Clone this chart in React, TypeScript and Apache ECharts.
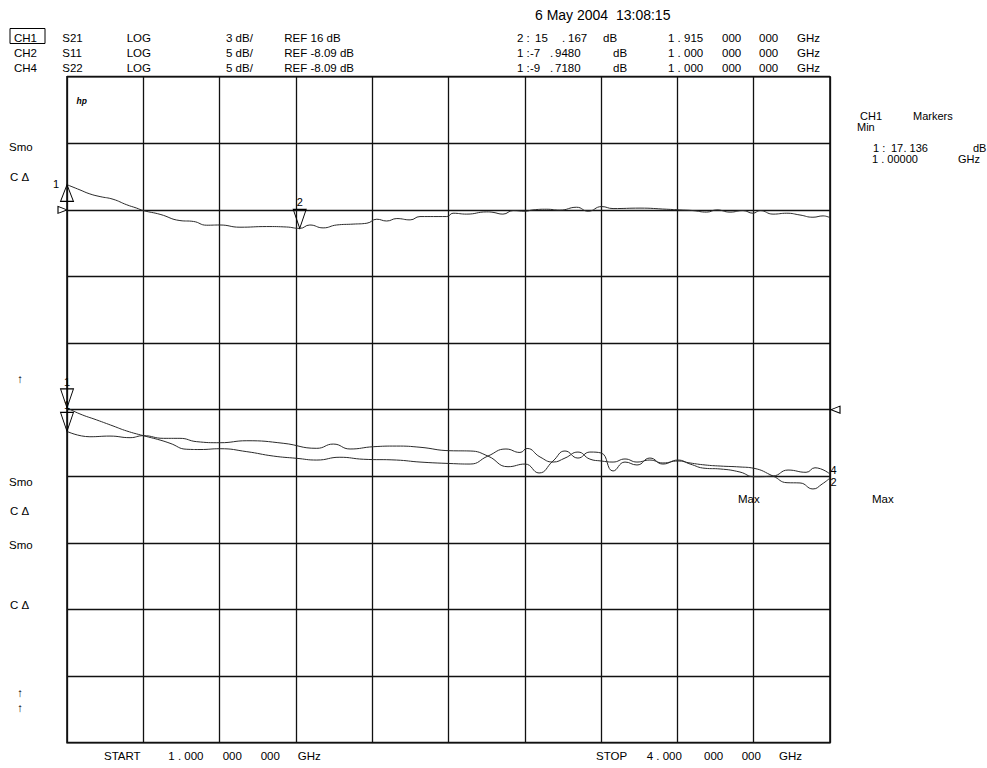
import React, { useEffect, useRef } from "react";
import * as echarts from "echarts";

// ---------- data ----------
const startGHz = 1.0;
const stopGHz = 4.0;

const ch1Scale = { ref: 16, perDiv: 3 };
const ch2Scale = { ref: -8.09, perDiv: 5 };

// CH1 S21 trace [GHz, dB]
const ch1Trace: [number, number][] = [
  [1.0, 17.136], [1.051, 16.9], [1.09, 16.72], [1.13, 16.6], [1.181, 16.48], [1.235, 16.23],
  [1.274, 16.08], [1.3, 15.97], [1.366, 15.8], [1.444, 15.52], [1.497, 15.48], [1.549, 15.31],
  [1.601, 15.32], [1.68, 15.22], [1.785, 15.25], [1.863, 15.23], [1.915, 15.167], [1.955, 15.32],
  [2.007, 15.19], [2.06, 15.32], [2.125, 15.36], [2.179, 15.4], [2.218, 15.58], [2.257, 15.5],
  [2.297, 15.61], [2.349, 15.55], [2.388, 15.7], [2.493, 15.7], [2.518, 15.85], [2.572, 15.81],
  [2.65, 15.91], [2.675, 15.89], [2.714, 15.81], [2.754, 15.97], [2.801, 15.94], [2.832, 16.0],
  [2.886, 16.03], [2.938, 15.99], [3.004, 16.12], [3.049, 15.94], [3.102, 16.15], [3.147, 16.06],
  [3.253, 16.08], [3.358, 16.03], [3.41, 16.0], [3.461, 15.97], [3.515, 15.9], [3.555, 16.0],
  [3.607, 15.9], [3.658, 15.97], [3.697, 15.85], [3.725, 15.97], [3.776, 15.81], [3.83, 15.85],
  [3.882, 15.77], [3.933, 15.67], [3.973, 15.73], [4.0, 15.65],
];

// CH2 S11 trace [GHz, dB]
const ch2Trace: [number, number][] = [
  [1.0, -7.948], [1.051, -8.41], [1.117, -8.86], [1.181, -9.31], [1.235, -9.69], [1.3, -10.04],
  [1.366, -10.37], [1.405, -10.61], [1.471, -11.06], [1.523, -11.08], [1.602, -11.02], [1.707, -11.24],
  [1.811, -11.57], [1.903, -11.74], [1.982, -11.87], [2.073, -11.66], [2.165, -11.81], [2.296, -11.87],
  [2.388, -12.02], [2.506, -12.13], [2.585, -12.17], [2.655, -11.57], [2.726, -11.04], [2.781, -11.3],
  [2.809, -11.0], [2.86, -11.64], [2.911, -12.02], [2.958, -11.72], [3.009, -11.27], [3.056, -11.8],
  [3.1, -11.94], [3.147, -12.02], [3.194, -11.79], [3.241, -12.02], [3.292, -11.87], [3.343, -12.09],
  [3.402, -11.94], [3.45, -12.09], [3.509, -12.24], [3.568, -12.32], [3.646, -12.39], [3.701, -12.49],
  [3.776, -13.07], [3.831, -13.57], [3.882, -13.59], [3.933, -14.04], [3.969, -13.67], [4.0, -13.22],
];

// CH4 S22 trace [GHz, dB]
const ch4Trace: [number, number][] = [
  [1.0, -9.718], [1.09, -10.12], [1.169, -10.07], [1.248, -10.19], [1.3, -10.04], [1.379, -10.24],
  [1.444, -10.24], [1.51, -10.49], [1.602, -10.57], [1.707, -10.42], [1.85, -10.61], [1.982, -10.99],
  [2.047, -10.67], [2.113, -11.04], [2.204, -10.87], [2.296, -10.82], [2.388, -10.91], [2.506, -11.17],
  [2.585, -11.19], [2.655, -11.57], [2.734, -12.37], [2.801, -12.17], [2.856, -12.84], [2.911, -11.94],
  [2.958, -11.19], [3.009, -11.72], [3.056, -11.27], [3.1, -11.34], [3.147, -12.69], [3.194, -12.02],
  [3.241, -12.24], [3.292, -11.72], [3.343, -12.17], [3.402, -11.87], [3.45, -12.17], [3.509, -12.49],
  [3.568, -12.54], [3.646, -12.77], [3.701, -13.12], [3.776, -13.07], [3.835, -12.62], [3.906, -12.79],
  [3.941, -12.45], [4.0, -12.92],
];

const ch1Markers: [string, number, number][] = [["1", 1.0, 17.136], ["2", 1.915, 15.167]];
const ch2Markers: [string, number, number][] = [["1", 1.0, -7.948]];
const ch4Markers: [string, number, number][] = [["1", 1.0, -9.718]];

const headerChannels = ["CH1", "CH2", "CH4"];
const headerParams = ["S21", "S11", "S22"];
const headerFormat = ["LOG", "LOG", "LOG"];
const headerScale = ["3 dB/", "5 dB/", "5 dB/"];
const headerRef = ["REF 16 dB", "REF -8.09 dB", "REF -8.09 dB"];
const markerNum = [["2 :", "15", ".", "167", "dB"], ["1 :", "-7", ".", "9480", "dB"], ["1 :", "-9", ".", "7180", "dB"]];
const markerFreq = [["1 . 915", "000", "000", "GHz"], ["1 . 000", "000", "000", "GHz"], ["1 . 000", "000", "000", "GHz"]];
const dateText = "6 May 2004  13:08:15";

// ---------- layout ----------
const FONT = '"Liberation Sans", Arial, Helvetica, sans-serif';
const GRID = { left: 67, top: 76.7, width: 763, height: 666 };

function t(text: string, x: number, y: number, size = 11.5, extra: any = {}) {
  return {
    type: "text",
    x,
    y,
    silent: true,
    style: {
      text,
      fill: "#000",
      fontSize: size,
      fontFamily: FONT,
      textAlign: extra.align || "left",
      align: extra.align || "left",
      textVerticalAlign: "middle",
      verticalAlign: "middle",
      fontStyle: extra.fontStyle || "normal",
      fontWeight: extra.fontWeight || "normal",
    },
  };
}

const TRI_UP = "path://M5,0 L10,12 L0,12 Z";
const TRI_DOWN = "path://M0,0 L10,0 L5,12 Z";
const TRI_RIGHT = "path://M0,0 L10,5 L0,10 Z";
const TRI_LEFT = "path://M10,0 L0,5 L10,10 Z";

const outline = { color: "rgba(0,0,0,0)", borderColor: "#000", borderWidth: 1 };
const labelBase = { show: true, color: "#000", fontSize: 11, fontFamily: FONT };

export default function App() {
  const ref = useRef<HTMLDivElement>(null);

  useEffect(() => {
    document.body.style.margin = "0";
    if (!ref.current) return;
    const chart = echarts.init(ref.current, undefined, { renderer: "svg" });

    const rowsY = [37.5, 52.5, 67.5];
    const graphics: any[] = [];
    graphics.push(t(dateText, 535, 15, 14));
    graphics.push({
      type: "rect",
      silent: true,
      shape: { x: 10, y: 28.5, width: 35, height: 15 },
      style: { fill: "none", stroke: "#000", lineWidth: 1 },
    });
    const numX = [517, 535, 562, 568, 603];
    const numX2 = [517, 530, 550, 555, 613];
    const freqX = [668, 722, 759, 797];
    rowsY.forEach((y, i) => {
      graphics.push(t(headerChannels[i], 14, y));
      graphics.push(t(headerParams[i], 62.3, y));
      graphics.push(t(headerFormat[i], 126.7, y));
      graphics.push(t(headerScale[i], 226, y));
      graphics.push(t(headerRef[i], 284.3, y));
      const xs = i === 0 ? numX : numX2;
      markerNum[i].forEach((s, k) => graphics.push(t(s, xs[k], y)));
      markerFreq[i].forEach((s, k) => graphics.push(t(s, freqX[k], y)));
    });

    graphics.push(t("hp", 76.5, 101, 8.5, { fontStyle: "italic", fontWeight: "bold" }));

    // left annotations
    graphics.push(t("Smo", 9, 147));
    graphics.push(t("C \u0394", 10, 177));
    graphics.push(t("\u2191", 20, 379, 11.5, { align: "center" }));
    graphics.push(t("Smo", 9, 482));
    graphics.push(t("C \u0394", 10, 511));
    graphics.push(t("Smo", 9, 545));
    graphics.push(t("C \u0394", 10, 605));
    graphics.push(t("\u2191", 20, 693, 11.5, { align: "center" }));
    graphics.push(t("\u2191", 20, 708, 11.5, { align: "center" }));

    // right annotations
    graphics.push(t("CH1", 860, 116, 11));
    graphics.push(t("Markers", 913, 116, 11));
    graphics.push(t("Min", 857, 127, 11));
    graphics.push(t("1 :", 873, 148, 11));
    graphics.push(t("17", 891, 148, 11));
    graphics.push(t(". 136", 903.5, 148, 11));
    graphics.push(t("dB", 973, 148, 11));
    graphics.push(t("1 . 00000", 872, 159, 11));
    graphics.push(t("GHz", 958, 159, 11));
    graphics.push(t("Max", 738, 499));
    graphics.push(t("Max", 872, 499));

    // bottom
    graphics.push(t("START", 104, 756));
    graphics.push(t("1 . 000", 168.3, 756));
    graphics.push(t("000", 222.7, 756));
    graphics.push(t("000", 260.7, 756));
    graphics.push(t("GHz", 297.7, 756));
    graphics.push(t("STOP", 596, 756));
    graphics.push(t("4 . 000", 646.7, 756));
    graphics.push(t("000", 704, 756));
    graphics.push(t("000", 741.7, 756));
    graphics.push(t("GHz", 779, 756));

    const divAxis = (min: number, max: number) => ({
      type: "value",
      min,
      max,
      interval: 1,
      axisLabel: { show: false },
      axisTick: { show: false },
      axisLine: { show: false },
      splitLine: { show: true, lineStyle: { color: "#111", width: 1.3 } },
    });

    const lineStyle = { color: "#2a2a2a", width: 1 };

    const upMarker = (m: [string, number, number]) => ({
      coord: [m[1], m[2]],
      symbol: TRI_UP,
      symbolSize: [13, 16.7],
      symbolOffset: [0, 8.35],
      itemStyle: outline,
      label: { ...labelBase, formatter: m[0], position: [-1, 0], align: "right", verticalAlign: "middle" },
    });
    const downMarker = (m: [string, number, number]) => ({
      coord: [m[1], m[2]],
      symbol: TRI_DOWN,
      symbolSize: [13, 19],
      symbolOffset: [0, -9.5],
      itemStyle: outline,
      label: { ...labelBase, formatter: m[0], position: "top", distance: 1 },
    });

    const option: any = {
      animation: false,
      backgroundColor: "#fff",
      grid: {
        ...GRID,
        show: true,
        borderColor: "#000",
        borderWidth: 1.5,
        backgroundColor: "rgba(0,0,0,0)",
        containLabel: false,
        outerBoundsMode: "none",
      },
      xAxis: [
        divAxis(0, 10),
        { type: "value", min: startGHz, max: stopGHz, show: false },
      ],
      yAxis: [
        divAxis(0, 10),
        { type: "value", min: ch1Scale.ref - 8 * ch1Scale.perDiv, max: ch1Scale.ref + 2 * ch1Scale.perDiv, show: false },
        { type: "value", min: ch2Scale.ref - 5 * ch2Scale.perDiv, max: ch2Scale.ref + 5 * ch2Scale.perDiv, show: false },
      ],
      graphic: graphics,
      series: [
        {
          name: "CH1 S21",
          type: "line",
          xAxisIndex: 1,
          yAxisIndex: 1,
          data: ch1Trace,
          showSymbol: false,
          symbol: "none",
          smooth: 0.5,
          clip: false,
          silent: true,
          lineStyle,
          markPoint: {
            silent: true,
            data: [
              upMarker(ch1Markers[0]),
              downMarker(ch1Markers[1]),
              {
                coord: [startGHz, ch1Scale.ref],
                symbol: TRI_RIGHT,
                symbolSize: [9, 7],
                symbolOffset: [-4.5, 0],
                itemStyle: outline,
                label: { show: false },
              },
            ],
          },
        },
        {
          name: "CH2 S11",
          type: "line",
          xAxisIndex: 1,
          yAxisIndex: 2,
          data: ch2Trace,
          showSymbol: false,
          symbol: "none",
          smooth: 0.5,
          clip: false,
          silent: true,
          lineStyle,
          markPoint: {
            silent: true,
            data: [
              downMarker(ch2Markers[0]),
              {
                coord: [stopGHz, ch2Scale.ref],
                symbol: TRI_LEFT,
                symbolSize: [9, 7],
                symbolOffset: [5.5, 0],
                itemStyle: outline,
                label: { show: false },
              },
              {
                coord: ch2Trace[ch2Trace.length - 1],
                symbol: "circle",
                symbolSize: 1,
                itemStyle: { color: "rgba(0,0,0,0)" },
                label: { ...labelBase, formatter: "2", position: "right", distance: 0, offset: [0, 4], lineHeight: 10 },
              },
            ],
          },
        },
        {
          name: "CH4 S22",
          type: "line",
          xAxisIndex: 1,
          yAxisIndex: 2,
          data: ch4Trace,
          showSymbol: false,
          symbol: "none",
          smooth: 0.5,
          clip: false,
          silent: true,
          lineStyle,
          markPoint: {
            silent: true,
            data: [
              downMarker(ch4Markers[0]),
              {
                coord: ch4Trace[ch4Trace.length - 1],
                symbol: "circle",
                symbolSize: 1,
                itemStyle: { color: "rgba(0,0,0,0)" },
                label: { ...labelBase, formatter: "4", position: "right", distance: 0, offset: [0, -4], lineHeight: 10 },
              },
            ],
          },
        },
      ],
    };

    chart.setOption(option);
    return () => chart.dispose();
  }, []);

  return <div ref={ref} style={{ width: 987, height: 768, background: "#fff" }} />;
}
